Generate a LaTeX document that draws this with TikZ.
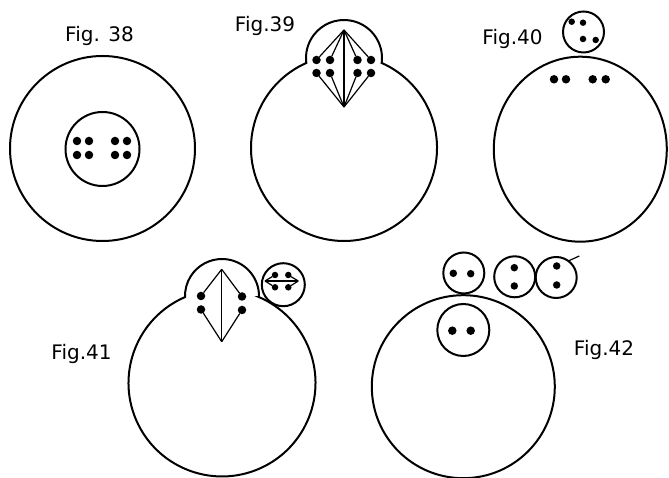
\documentclass[tikz,border=0pt]{standalone}
\usepackage{fontspec}
\setmainfont{DejaVu Sans}
\usetikzlibrary{calc,shapes.geometric}
\begin{document}
\begin{tikzpicture}[x=1pt,y=1pt]

\tikzstyle{wall} = [draw, line width=2pt, inner sep=0pt, outer sep=0pt]
\tikzstyle{cell} = [wall, circle, minimum size=185pt]
\tikzstyle{nucleus} = [wall, circle]
\tikzstyle{dot} = [circle, fill=black, inner sep=0pt, outer sep=0pt, minimum size=8.5pt]
\tikzstyle{smallDot} = [dot, minimum size=6.5pt]
\tikzstyle{spindleEdge} = [black, line width=1.2pt]
\tikzstyle{figLabel} = [anchor=base, inner sep=0pt, font={\fontsize{20}{24}\selectfont}]

\useasboundingbox (0,0) rectangle (669,478);

\node[cell, name=cell38] at (102.5,329.5) {};
\node[nucleus, minimum size=74pt, name=nuc38] at (102.5,329) {};
\foreach \x/\y/\n in {77/337/a, 89/337/b, 115/337/c, 127/337/d, 77/323/e, 89/323/f, 115/323/g, 127/323/h}
  \node[dot, name=d38\n] at (\x,\y) {};
\node[figLabel, name=lab38] at (99.5,436.3) {Fig. 38};

\coordinate (cell39) at (344,330);
\coordinate (bud39) at (344,420);
\draw[wall] ($(bud39)+(-7.5:38)$) arc[start angle=-7.5, end angle=187.5, radius=38]
  arc[start angle=113.9, end angle=426.1, radius=93] -- cycle;
\coordinate (top39) at (344,448);
\coordinate (bot39) at (344,371);
\foreach \x/\y/\n in {316.5/418/a, 330/418/b, 357.5/418/c, 371/418/d, 316.5/405/e, 330/405/f, 357.5/405/g, 371/405/h}
  \node[dot, name=d39\n] at (\x,\y) {};
\draw (top39) edge[spindleEdge] (bot39);
\foreach \n in {a,b,c,d} \draw (top39) edge[spindleEdge] (d39\n);
\foreach \n in {e,f,g,h} \draw (bot39) edge[spindleEdge] (d39\n);
\node[figLabel, name=lab39] at (265,446) {Fig.39};

\node[wall, ellipse, minimum width=173pt, minimum height=185pt, name=cell40] at (580.3,328.8) {};
\node[nucleus, minimum size=41pt, name=nuc40] at (583.5,446) {};
\foreach \x/\y/\n in {571.7/456.3/a, 583/455.3/b, 583/439/c, 595.7/438/d}
  \node[smallDot, name=s40\n] at (\x,\y) {};
\foreach \x/\n in {554/a, 566/b, 592.7/c, 605.7/d}
  \node[dot, name=d40\n] at (\x,398.7) {};
\node[figLabel, name=lab40] at (512.5,433.7) {Fig.40};

\coordinate (cell41) at (222,95);
\coordinate (bud41) at (222,182);
\draw[wall] ($(bud41)+(-1.7:37)$) arc[start angle=-1.7, end angle=181.7, radius=37]
  arc[start angle=113.3, end angle=426.7, radius=93.5] -- cycle;
\coordinate (top41) at (221.7,208.7);
\coordinate (bot41) at (221.7,136.3);
\foreach \x/\y/\n in {201/182/a, 242/181.5/b, 201/168.5/c, 242/168/d}
  \node[dot, name=d41\n] at (\x,\y) {};
\draw (top41) edge[spindleEdge] (bot41);
\foreach \n in {a,b} \draw (top41) edge[spindleEdge] (d41\n);
\foreach \n in {c,d} \draw (bot41) edge[spindleEdge] (d41\n);
\node[nucleus, minimum size=43pt, name=nuc41] at (283.3,193.3) {};
\coordinate (left41) at (265,197);
\coordinate (right41) at (298.3,197);
\foreach \x/\y/\n in {275/203/a, 288.3/203/b, 275/190.7/c, 288.3/190.7/d}
  \node[smallDot, name=s41\n] at (\x,\y) {};
\draw (left41) edge[spindleEdge] (right41);
\foreach \n in {a,c} \draw (left41) edge[spindleEdge] (s41\n);
\foreach \n in {b,d} \draw (right41) edge[spindleEdge] (s41\n);
\node[figLabel, name=lab41] at (81.5,118) {Fig.41};

\node[cell, minimum size=183pt, name=cell42] at (463.3,91.3) {};
\node[nucleus, minimum size=52pt, name=nuc42] at (463.3,148) {};
\node[dot, name=d42a] at (452.3,147.3) {};
\node[dot, name=d42b] at (470.7,147.3) {};
\node[nucleus, minimum size=41pt, name=bud42a] at (463.8,205) {};
\node[smallDot, minimum size=7.5pt, name=s42a] at (453.3,204.7) {};
\node[smallDot, minimum size=7.5pt, name=s42b] at (470.7,204.3) {};
\node[nucleus, minimum size=41pt, name=bud42b] at (514.7,201.2) {};
\node[smallDot, minimum size=7.5pt, name=s42c] at (514.3,210.3) {};
\node[smallDot, minimum size=7.5pt, name=s42d] at (514.3,192) {};
\node[nucleus, minimum size=41pt, name=bud42c] at (556.2,200.5) {};
\node[smallDot, minimum size=7.5pt, name=s42e] at (556.7,212) {};
\node[smallDot, minimum size=7.5pt, name=s42f] at (556.7,193) {};
\coordinate (tickA42) at (568.3,217);
\coordinate (tickB42) at (579.3,222);
\draw (tickA42) edge[spindleEdge] (tickB42);
\node[figLabel, name=lab42] at (604,122) {Fig.42};

\end{tikzpicture}
\end{document}
